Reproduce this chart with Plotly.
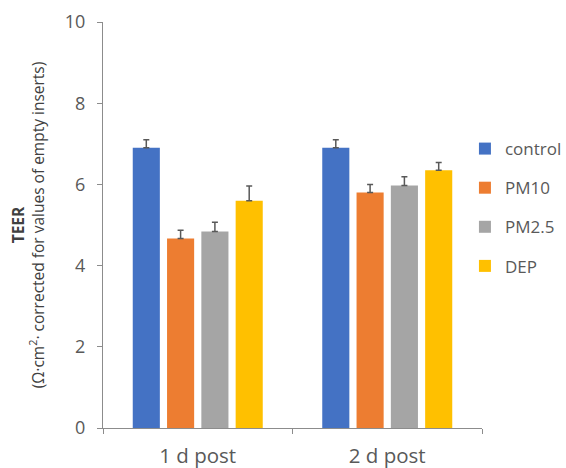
import plotly.graph_objects as go

# TEER per time point and exposure group
timepoints = ["1 d post", "2 d post"]
groups = ["control", "PM10", "PM2.5", "DEP"]
teer_mean = {
    "control": [6.90, 6.90],
    "PM10": [4.67, 5.80],
    "PM2.5": [4.84, 5.97],
    "DEP": [5.60, 6.35],
}
teer_err = {
    "control": [0.20, 0.20],
    "PM10": [0.20, 0.20],
    "PM2.5": [0.23, 0.22],
    "DEP": [0.36, 0.19],
}
colors = {
    "control": "#4472C4",
    "PM10": "#ED7D31",
    "PM2.5": "#A5A5A5",
    "DEP": "#FFC000",
}

FONT = "Open Sans"
TEXT = "#595959"

fig = go.Figure()
for g in groups:
    fig.add_trace(go.Bar(
        name=g,
        x=timepoints,
        y=teer_mean[g],
        marker=dict(color=colors[g], line=dict(width=0)),
        error_y=dict(type="data", array=teer_err[g],
                     arrayminus=[0] * len(timepoints), symmetric=False,
                     color="#595959", thickness=1.5, width=3),
        legendgroup=g,
    ))

fig.update_layout(
    width=566, height=468,
    margin=dict(l=103, r=84, t=22, b=40, autoexpand=False),
    paper_bgcolor="white", plot_bgcolor="white",
    barmode="group", bargap=0.276, bargroupgap=0.21,
    font=dict(family=FONT, color=TEXT),
    showlegend=True,
    legend=dict(x=0.955, xanchor="left", y=0.543, yanchor="middle",
                xref="paper", yref="paper",
                font=dict(family=FONT, size=17, color=TEXT),
                tracegroupgap=14, traceorder="grouped",
                itemwidth=30),
    xaxis=dict(
        showline=True, linecolor="#8c8c8c", linewidth=1,
        ticks="outside", tickson="boundaries", ticklen=5,
        tickcolor="#8c8c8c",
        ticklabelstandoff=9,
        tickfont=dict(family=FONT, size=20.5, color=TEXT),
        showgrid=False,
    ),
    yaxis=dict(
        range=[0, 10], dtick=2, tick0=0,
        showline=True, linecolor="#8c8c8c", linewidth=1,
        ticks="outside", ticklen=5, tickcolor="#8c8c8c",
        ticklabelstandoff=8,
        tickfont=dict(family=FONT, size=18, color=TEXT),
        showgrid=False, zeroline=False,
        title=dict(
            text="<b>TEER</b><br>(Ω·cm<sup>2</sup>· corrected for values of empty inserts)",
            font=dict(family=FONT, size=15.5, color="#404040"),
            standoff=16,
        ),
    ),
)

fig.write_html("out.html")
